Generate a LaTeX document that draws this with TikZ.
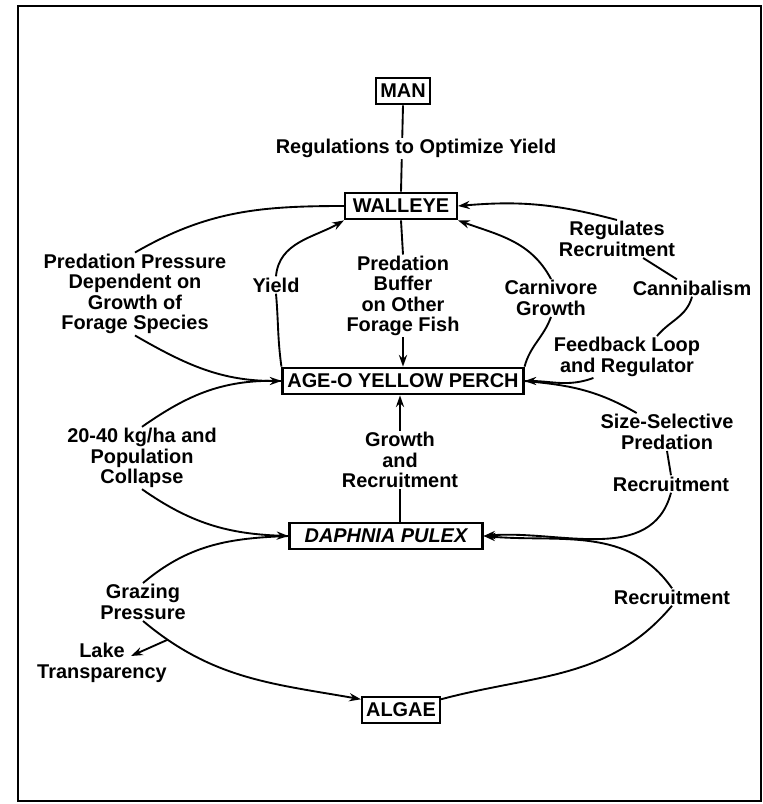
\documentclass[tikz,border=0pt]{standalone}
\usepackage{fontspec}
\setmainfont{Liberation Sans}
\usetikzlibrary{arrows.meta,calc}

\begin{document}
\begin{tikzpicture}[x=0.03cm, y=-0.03cm,
    box/.style={draw, line width=1.8pt, minimum height=0.8cm, inner xsep=3pt, inner ysep=2pt, font=\bfseries\fontsize{17}{17.5}\selectfont},
    lbl/.style={align=center, inner sep=1pt, font=\bfseries\fontsize{17}{17.5}\selectfont},
    link/.style={line width=1.6pt},
    arr/.style={-{Stealth[length=10pt, width=7pt]}, line width=1.6pt}
]
\useasboundingbox (0,0) rectangle (763,804);
\draw[line width=1.8pt] (18,6) rectangle (761,801);

% boxes
\node[box, minimum width=1.62cm] (man) at (403,91) {MAN};
\node[box, minimum width=3.36cm] (walleye) at (401,206) {WALLEYE};
\node[box, minimum width=7.23cm] (perch) at (403,381) {AGE-O YELLOW PERCH};
\node[box, minimum width=5.79cm] (daphnia) at (386,536) {\itshape DAPHNIA PULEX};
\node[box, minimum width=2.34cm] (algae) at (401,710) {ALGAE};

% labels
\node[lbl] (press) at (135,294) {Predation Pressure\\Dependent on\\Growth of\\Forage Species};
\node[lbl] (yld) at (276,285) {Yield};
\node[lbl] (buf) at (403,296) {Predation\\Buffer\\on Other\\Forage Fish};
\node[lbl] (carn) at (551,298) {Carnivore\\Growth};
\node[lbl] (regrec) at (617,239) {Regulates\\Recruitment};
\node[lbl] (cannib) at (692,288) {Cannibalism};
\node[lbl] (feed) at (627,357) {Feedback Loop\\and Regulator};
\node[lbl] (coll) at (142,458) {20-40 kg/ha and\\Population\\Collapse};
\node[lbl] (grow) at (400,460) {Growth\\and\\Recruitment};
\node[lbl] (sizesel) at (667,432) {Size-Selective\\Predation};
\node[lbl] (recA) at (671,484) {Recruitment};
\node[lbl] (graz) at (143,602) {Grazing\\Pressure};
\node[lbl] (lake) at (102,663) {Lake\\Transparency};
\node[lbl] (recB) at (672,597) {Recruitment};

% man to walleye
\draw[link] (man.south) -- (walleye.north);
\node[lbl, fill=white] (regs) at (416,148) {Regulations to Optimize Yield};

% left side
\draw[link] (walleye.west) to[out=180, in=30] (press.north);
\draw[arr] (press.south) to[out=-30, in=180] (perch.west);
\draw[link] (perch.west) to[out=178, in=35] (coll.north);
\draw[arr] (coll.south) to[out=-35, in=178] (daphnia.west);
\draw[link] (daphnia.west) to[out=182, in=40] (graz.north);
\draw[arr] (graz.south) to[out=-40, in=170] coordinate[pos=0.12] (lk0) (algae.165);
\coordinate (lk1) at (131,656);
\draw[arr] (lk0) -- (lk1);

% bottom right
\draw[link] (algae.15) to[out=15, in=230] (recB.south);
\draw[arr] (recB.north) to[out=125, in=-5] (daphnia.east);

% right side
\draw[link] (perch.east) to[out=-5, in=150] (sizesel.148);
\draw[link] (sizesel.south) -- (recA.north);
\draw[arr] (recA.south) to[out=-105, in=5] (daphnia.east);
\draw[arr] (feed.212) to[out=200, in=0] (perch.east);
\draw[link] (feed.35) to[out=50, in=-105] (cannib.south);
\draw[link] (cannib.150) -- (regrec.-36);
\draw[arr] (regrec.north) to[out=165, in=5] (walleye.east);

% centre
\draw[link] (walleye.south) -- (buf.north);
\draw[arr] (buf.south) -- (perch.north);
\draw[link] (perch.north west) to[out=98, in=-85] (yld.south);
\draw[arr] (yld.north) to[out=85, in=210] (walleye.south west);
\draw[link] (perch.north east) to[out=75, in=250] (carn.south);
\draw[arr] (carn.north) to[out=118, in=-20] (walleye.south east);
\draw[arr] (grow.north) -- (grow.north |- perch.south);
\draw[link] (grow.south) -- (grow.south |- daphnia.north);
\end{tikzpicture}
\end{document}
